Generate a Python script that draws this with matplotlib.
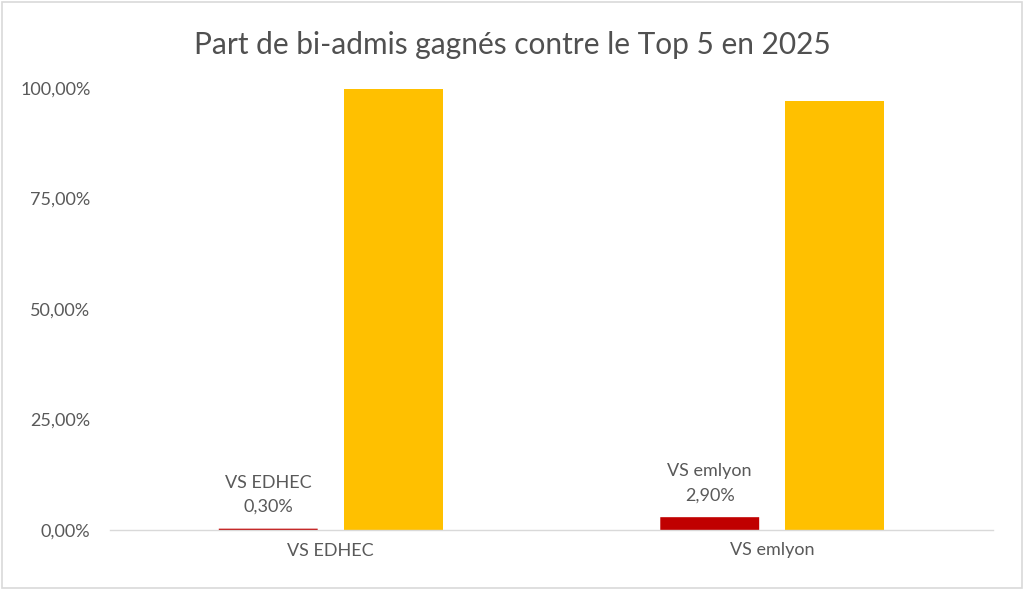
import matplotlib
matplotlib.use("Agg")
import matplotlib.pyplot as plt
import numpy as np
from matplotlib.patches import Rectangle

categories = ["VS EDHEC", "VS emlyon"]
won = [0.30, 2.90]
lost = [99.70, 97.10]
won_labels = ["VS EDHEC\n0,30%", "VS emlyon\n2,90%"]
yticks = [0, 25, 50, 75, 100]
ytick_labels = ["0,00%", "25,00%", "50,00%", "75,00%", "100,00%"]
title = "Part de bi-admis gagnés contre le Top 5 en 2025"

plt.rcParams['font.family'] = ['Lato', 'DejaVu Sans']
txt = "#595959"

fig = plt.figure(figsize=(10.24, 5.9), dpi=100)
ax = fig.add_axes([110/1024, (590-530)/590, 883/1024, 470/590])
ax.set_ylim(0, 100 * 470 / 442)

x = np.arange(len(categories))
w = 0.224
off = 0.1416
ax.bar(x - off, won, width=w, color="#C00000", snap=False)
ax.bar(x + off, lost, width=w, color="#FFC000")
ax.set_xlim(-0.5, 1.5)

for xi, v, lab in zip(x, won, won_labels):
    ax.annotate(lab, (xi - off, v), xytext=(0, 10), textcoords="offset points",
                ha="center", va="bottom", fontsize=13, color=txt, linespacing=1.6)

ax.set_yticks(yticks)
ax.set_yticklabels(ytick_labels, fontsize=13, color=txt)
ax.set_xticks(x)
ax.set_xticklabels(categories, fontsize=13, color=txt)
ax.tick_params(axis="both", length=0)
ax.tick_params(axis="y", pad=14)
ax.tick_params(axis="x", pad=9)
for s in ["top", "right", "left"]:
    ax.spines[s].set_visible(False)
ax.spines["bottom"].set_color("#D9D9D9")
ax.spines["bottom"].set_linewidth(1.0)

fig.text(0.5, 1 - 45/590, title, ha="center", va="center", fontsize=21.5, color="#505050")
fig.patches.append(Rectangle((0.002, 0.003), 0.996, 0.994, transform=fig.transFigure,
                             fill=False, edgecolor="#D9D9D9", linewidth=1.2))
fig.savefig("out.png", dpi=100, facecolor="white")
